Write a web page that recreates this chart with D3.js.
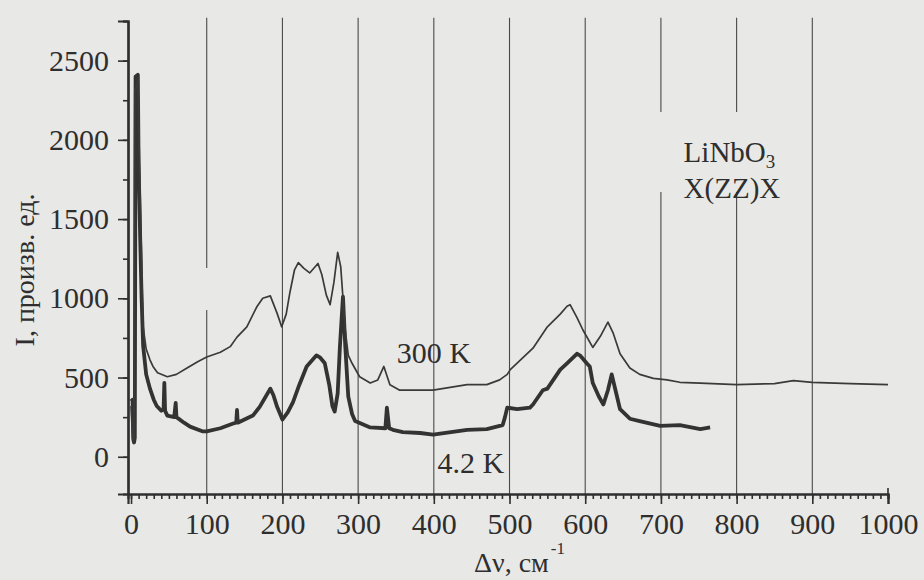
<!DOCTYPE html>
<html>
<head>
<meta charset="utf-8">
<script src="https://cdn.jsdelivr.net/npm/d3@7"></script>
<style>
  html, body { margin: 0; padding: 0; background: #e8e8e6; }
  svg { display: block; }
  text { font-family: "Liberation Serif", "Times New Roman", serif; fill: #2e2e2e; }
</style>
</head>
<body>
<svg id="chart" width="924" height="580"></svg>
<script>
// ---------------- data ----------------
// Raman shift, cm^-1, and intensity (arb. units) for the 300 K spectrum
const shift300 = [0, 2, 4, 5, 9, 11, 13, 15, 16, 20, 25, 29, 35, 48, 60, 74, 88, 100, 118, 131, 140, 153, 166, 174, 184, 193, 199, 205, 210, 216, 221, 228, 236, 247, 252, 258, 263, 268, 273, 277, 280, 283, 287, 292, 302, 316, 326, 334, 342, 355, 382, 399, 444, 470, 487, 497, 501, 531, 550, 567, 576, 580, 589, 597, 610, 620, 630, 637, 646, 659, 672, 690, 708, 725, 752, 800, 850, 875, 900, 950, 1000];
const int300   = [320, 120, 100, 2300, 2380, 1900, 1450, 1000, 820, 680, 612, 570, 530, 505, 520, 560, 600, 630, 660, 695, 755, 820, 945, 1000, 1015, 905, 820, 900, 1040, 1180, 1225, 1190, 1160, 1220, 1150, 1020, 960, 1100, 1290, 1200, 1000, 800, 640, 590, 505, 465, 485, 570, 455, 420, 420, 420, 455, 455, 485, 520, 550, 685, 820, 900, 950, 960, 880, 800, 690, 760, 850, 780, 650, 560, 520, 495, 485, 470, 465, 455, 462, 480, 470, 462, 455];

// Raman shift, cm^-1, and intensity for the 4.2 K spectrum
const shift42 = [0, 2, 3, 4, 5, 6, 9, 10, 12, 14, 16, 20, 25, 30, 34, 40, 43, 44, 45, 48, 57, 59, 60, 70, 78, 95, 100, 118, 135, 139, 140, 141, 152, 161, 170, 178, 184, 188, 193, 200, 207, 214, 222, 232, 245, 250, 256, 262, 266, 269, 273, 276, 280, 283, 287, 292, 296, 316, 336, 338, 341, 346, 359, 382, 399, 444, 470, 491, 494, 497, 510, 527, 531, 544, 550, 567, 576, 589, 593, 602, 606, 610, 618, 624, 630, 635, 640, 646, 659, 672, 699, 725, 752, 765];
const int42   = [350, 360, 110, 90, 120, 2400, 2410, 1850, 1400, 1000, 700, 520, 430, 360, 320, 290, 300, 466, 290, 260, 250, 340, 250, 215, 190, 160, 160, 180, 210, 215, 295, 215, 240, 260, 315, 380, 430, 390, 315, 235, 280, 345, 450, 570, 640, 625, 590, 450, 320, 285, 400, 700, 1010, 700, 380, 270, 225, 185, 180, 310, 180, 170, 155, 150, 140, 170, 175, 200, 250, 310, 300, 310, 330, 420, 430, 550, 590, 650, 640, 590, 570, 465, 380, 330, 420, 520, 420, 300, 240, 225, 195, 200, 175, 185];

// axes
const xMajorTicks = [0, 100, 200, 300, 400, 500, 600, 700, 800, 900, 1000];
const yMajorTicks = [0, 500, 1000, 1500, 2000, 2500];
const gridShifts  = [100, 200, 300, 400, 500, 600, 700, 800, 900];

// texts
const yTitle = "I, произв. ед.";
const xTitle = "Δν, см";
const xTitleSup = "-1";
const seriesLabels = ["300 K", "4.2 K"];
const sampleLabel = ["LiNbO", "3", "X(ZZ)X"];

// ---------------- drawing ----------------
const svg = d3.select("#chart");
const W = 924, H = 580;

svg.append("rect").attr("width", W).attr("height", H).attr("fill", "#e8e8e6");

const x = d3.scaleLinear().domain([-4, 1000]).range([128, 888]);
const y = d3.scaleLinear().domain([-235, 2750]).range([494, 21]);

const ink = "#2f2f2f";

// grid lines (with the gaps seen in the scan)
const gridGaps = { 100: [926, 1191], 700: [1671, 2176], 800: [1671, 2176] };
const gridTop = 2770;
const g = svg.append("g").attr("class", "grid");
gridShifts.forEach(v => {
  const segs = gridGaps[v]
    ? [[-235, gridGaps[v][0]], [gridGaps[v][1], gridTop]]
    : [[-235, gridTop]];
  segs.forEach(s => {
    g.append("line")
      .attr("x1", x(v)).attr("x2", x(v))
      .attr("y1", y(s[0])).attr("y2", y(s[1]))
      .attr("stroke", "#4a4a4a").attr("stroke-width", 1.1);
  });
});

// x axis: minor ticks
const xMinor = svg.append("g").attr("transform", `translate(0,${y(-235)})`)
  .call(d3.axisBottom(x).tickValues(d3.range(0, 1001, 10)).tickSize(5).tickFormat(""));
// x axis: major ticks with labels
const xMajor = svg.append("g").attr("transform", `translate(0,${y(-235)})`)
  .call(d3.axisBottom(x).tickValues(xMajorTicks).tickSize(10).tickPadding(9).tickFormat(d3.format("d")));
xMajor.selectAll("text").attr("font-size", 30).attr("fill", ink)
  .style("font-family", '"Liberation Serif", "Times New Roman", serif');

// y axis: minor ticks
const yMinor = svg.append("g").attr("transform", `translate(${x(-4)},0)`)
  .call(d3.axisLeft(y).tickValues(d3.range(0, 2751, 250)).tickSize(5).tickFormat(""));
// y axis: major
const yMajor = svg.append("g").attr("transform", `translate(${x(-4)},0)`)
  .call(d3.axisLeft(y).tickValues(yMajorTicks).tickSize(10).tickPadding(9).tickFormat(d3.format("d")));
yMajor.selectAll("text").attr("font-size", 30).attr("fill", ink)
  .style("font-family", '"Liberation Serif", "Times New Roman", serif');

[xMinor, xMajor, yMinor, yMajor].forEach(a => {
  a.selectAll("path.domain").attr("stroke", ink).attr("stroke-width", 2.2);
  a.selectAll(".tick line").attr("stroke", ink).attr("stroke-width", 1.6);
});
// the right end of the x axis turns slightly upward
svg.append("line").attr("x1", x(1000)).attr("x2", x(1000))
  .attr("y1", y(-235)).attr("y2", y(-235) - 6).attr("stroke", ink).attr("stroke-width", 1.6);

// spectra
const line = d3.line().x(d => x(d[0])).y(d => y(d[1]));
const data300 = shift300.map((s, i) => [s, int300[i]]);
const data42  = shift42.map((s, i) => [s, int42[i]]);

svg.append("path").datum(data42).attr("d", line)
  .attr("fill", "none").attr("stroke", "#333").attr("stroke-width", 3.8)
  .attr("stroke-linejoin", "round");
svg.append("path").datum(data300).attr("d", line)
  .attr("fill", "none").attr("stroke", "#3a3a3a").attr("stroke-width", 1.7)
  .attr("stroke-linejoin", "round");

// annotations
svg.append("text").attr("x", x(351)).attr("y", y(592)).attr("font-size", 30).text(seriesLabels[0]);
svg.append("text").attr("x", x(405)).attr("y", y(-102)).attr("font-size", 30).text(seriesLabels[1]);

const lab = svg.append("text").attr("x", x(730)).attr("y", y(1860)).attr("font-size", 29);
lab.append("tspan").text(sampleLabel[0]);
lab.append("tspan").attr("font-size", 19).attr("dy", 6).text(sampleLabel[1]);
svg.append("text").attr("x", x(730)).attr("y", y(1633)).attr("font-size", 29).text(sampleLabel[2]);

// axis titles
svg.append("text")
  .attr("transform", `translate(34,270) rotate(-90)`)
  .attr("text-anchor", "middle").attr("font-size", 28).text(yTitle);

const xt = svg.append("text").attr("x", 474).attr("y", 572).attr("font-size", 28);
xt.append("tspan").text(xTitle);
xt.append("tspan").attr("font-size", 17).attr("dy", -18).attr("dx", 2).text(xTitleSup);
</script>
</body>
</html>
